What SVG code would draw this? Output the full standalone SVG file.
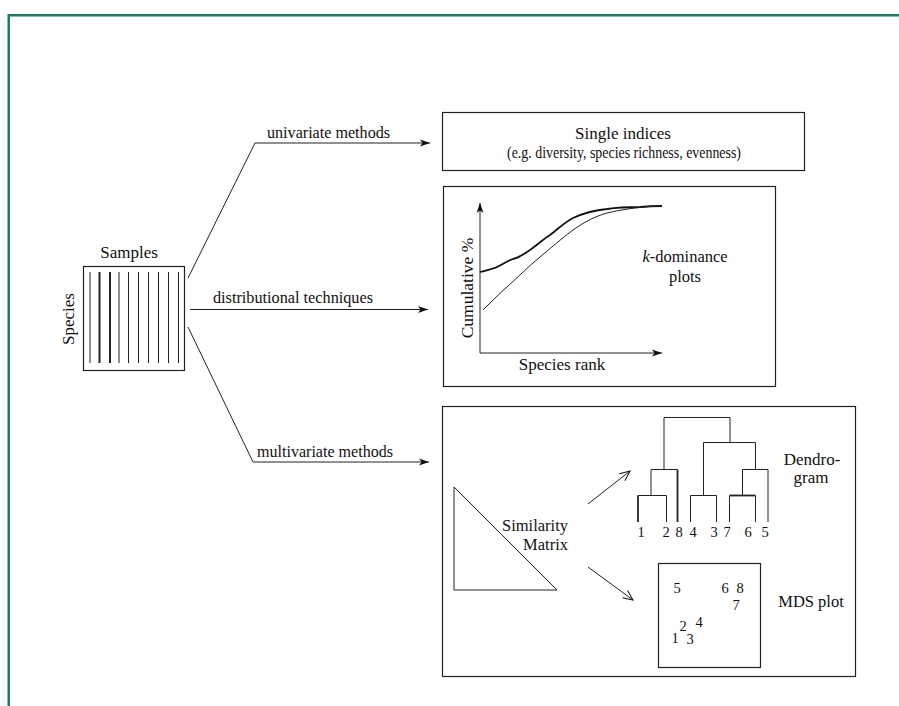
<svg xmlns="http://www.w3.org/2000/svg" width="899" height="706" viewBox="0 0 899 706">
<defs>
<marker id="arr" viewBox="0 0 10 8" refX="10" refY="4" markerWidth="10" markerHeight="8" markerUnits="userSpaceOnUse" orient="auto">
<path d="M0,0.5 L10,4 L0,7.5 L2.5,4 Z" fill="#111"/>
</marker>
<marker id="open" viewBox="0 0 12 10" refX="11" refY="5" markerWidth="12" markerHeight="10" markerUnits="userSpaceOnUse" orient="auto">
<path d="M1,0.5 L11,5 L1,9.5" fill="none" stroke="#111" stroke-width="1"/>
</marker>
<style>
.t{font-family:"Liberation Serif","Times New Roman",serif;fill:#111}
.box{fill:none;stroke:#222;stroke-width:1.2}
.ln{fill:none;stroke:#222;stroke-width:1}
.lab{font-size:16px}
.mid{text-anchor:middle}
.num{font-size:14.5px}
</style>
</defs>
<rect width="899" height="706" fill="#fff"/>
<path d="M8.75,720 V15.25 H910" fill="none" stroke="#1a7d64" stroke-width="2.5"/>

<g id="samples">
<rect class="box" x="83.5" y="266.5" width="101" height="104"/>
<g stroke="#222" stroke-width="1">
<line x1="90" y1="272" x2="90" y2="363"/>
<line x1="99.5" y1="272" x2="99.5" y2="363" stroke-width="2"/>
<line x1="110" y1="272" x2="110" y2="363" stroke-width="2"/>
<line x1="119" y1="272" x2="119" y2="363"/>
<line x1="128.5" y1="272" x2="128.5" y2="363"/>
<line x1="138.5" y1="272" x2="138.5" y2="363"/>
<line x1="148.5" y1="272" x2="148.5" y2="363"/>
<line x1="158.5" y1="272" x2="158.5" y2="363"/>
<line x1="168.5" y1="272" x2="168.5" y2="363"/>
<line x1="178.5" y1="272" x2="178.5" y2="363"/>
</g>
<text class="t mid" x="129" y="258" font-size="17">Samples</text>
<text class="t mid" x="74" y="319" font-size="17" transform="rotate(-90 74 319)">Species</text>
</g>

<g id="connectors">
<path class="ln" d="M188,278 L255,143 L430,143" marker-end="url(#arr)"/>
<path class="ln" d="M190,309.5 L428,309.5" marker-end="url(#arr)"/>
<path class="ln" d="M188,327 L253,462 L429,462" marker-end="url(#arr)"/>
<text class="t lab" x="267" y="138" textLength="123" lengthAdjust="spacingAndGlyphs">univariate methods</text>
<text class="t lab" x="213" y="303" textLength="160" lengthAdjust="spacingAndGlyphs">distributional techniques</text>
<text class="t lab" x="257" y="457" textLength="136" lengthAdjust="spacingAndGlyphs">multivariate methods</text>
</g>

<g id="single-indices">
<rect class="box" x="442.5" y="112.5" width="362" height="58"/>
<text class="t mid" x="623" y="139" font-size="17">Single indices</text>
<text class="t mid" x="624" y="157.5" font-size="16.5" textLength="234" lengthAdjust="spacingAndGlyphs">(e.g. diversity, species richness, evenness)</text>
</g>

<g id="k-dominance">
<rect class="box" x="443.5" y="186.5" width="332" height="200"/>
<path class="ln" d="M480,353 V203" marker-end="url(#arr)"/>
<path class="ln" d="M480,353 H662" marker-end="url(#arr)"/>
<path d="M480,272 C488,270 493,269 497,267 C503,264 507,261 513,259 C518,258 522,255 527,252 C535,247 542,240 550,235 C558,229 565,222 573,218 C584,213 596,210 607,209 C620,207 630,207 640,207 C650,206 656,206 662,206" fill="none" stroke="#111" stroke-width="1.8"/>
<path d="M483,310 C491,302 499,294 507,287 C518,277 529,266 540,257 C551,248 562,238 573,230 C584,222 596,216 607,213 C620,210 632,208 645,207 C652,206 657,206 662,206" fill="none" stroke="#222" stroke-width="1"/>
<text class="t mid" x="473" y="288" font-size="17.5" transform="rotate(-90 473 288)">Cumulative %</text>
<text class="t mid" x="562" y="370" font-size="17">Species rank</text>
<text class="t mid" x="685" y="262" font-size="16.5"><tspan font-style="italic">k</tspan>-dominance</text>
<text class="t mid" x="685" y="282" font-size="16.5">plots</text>
</g>

<g id="multivariate">
<rect class="box" x="442.5" y="406.5" width="413" height="270"/>
<path class="ln" d="M454,487 V590 H557 Z"/>
<text class="t" x="568" y="531" font-size="16.5" text-anchor="end">Similarity</text>
<text class="t" x="568" y="550" font-size="16.5" text-anchor="end">Matrix</text>
<path class="ln" d="M588,504 L630,471" marker-end="url(#open)"/>
<path class="ln" d="M588,567 L633,600" marker-end="url(#open)"/>
</g>

<g id="dendrogram">
<g class="ln">
<path d="M666.5,522 V495.5 H638"/>
<path d="M638,522 V495.5" stroke-width="1.8"/>
<path d="M651,495.5 V469.5 H677.5"/>
<path d="M677.5,522 V469.5" stroke-width="1.8"/>
<path d="M690.5,522 V495.5 H716.5 V522"/>
<path d="M729.5,522 V495.5"/>
<path d="M729.5,495.5 H755.5" stroke-width="1.8"/>
<path d="M755.5,495.5 V522"/>
<path d="M742.5,495.5 V469.5 H768 V522"/>
<path d="M703.5,495.5 V442.5 H755.5 V469.5"/>
<path d="M664,469.5 V417.5 H730 V442.5"/>
</g>
<text class="t mid num" x="641" y="537">1</text>
<text class="t mid num" x="666" y="537">2</text>
<text class="t mid num" x="679" y="537">8</text>
<text class="t mid num" x="693" y="537">4</text>
<text class="t mid num" x="714" y="537">3</text>
<text class="t mid num" x="727" y="537">7</text>
<text class="t mid num" x="748" y="537">6</text>
<text class="t mid num" x="765" y="537">5</text>
<text class="t mid" x="812" y="465" font-size="17">Dendro-</text>
<text class="t mid" x="811" y="483" font-size="17">gram</text>
</g>

<g id="mds-plot">
<rect class="box" x="658.5" y="563.5" width="102" height="104"/>
<text class="t mid num" x="677" y="593">5</text>
<text class="t mid num" x="725" y="593">6</text>
<text class="t mid num" x="740" y="593">8</text>
<text class="t mid num" x="736" y="610">7</text>
<text class="t mid num" x="683" y="631">2</text>
<text class="t mid num" x="699" y="627">4</text>
<text class="t mid num" x="675" y="643">1</text>
<text class="t mid num" x="690" y="644">3</text>
<text class="t mid" x="811" y="607" font-size="16.5">MDS plot</text>
</g>
</svg>
